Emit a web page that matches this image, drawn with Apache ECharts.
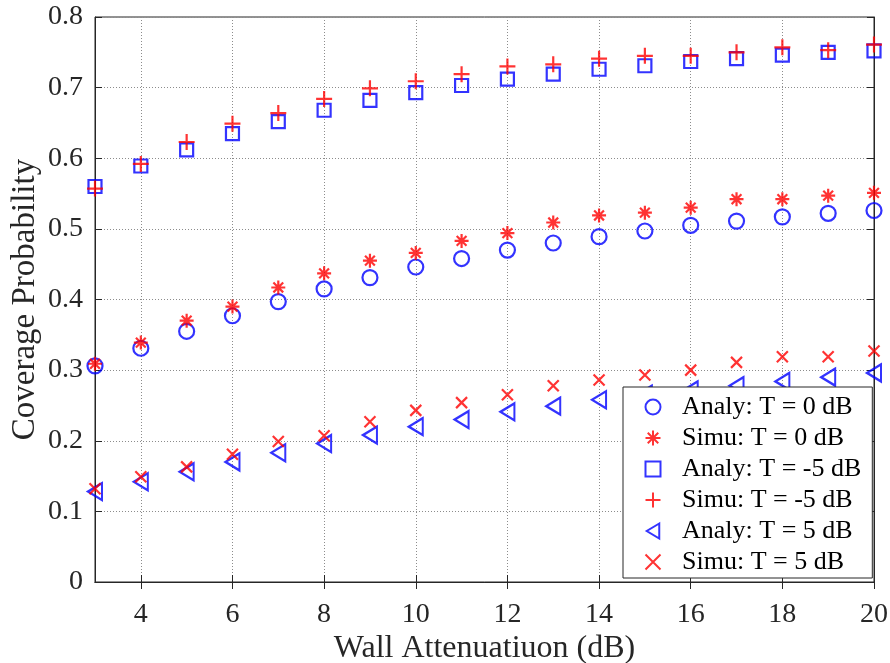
<!DOCTYPE html>
<html>
<head>
<meta charset="utf-8">
<script src="https://cdn.jsdelivr.net/npm/echarts@6/dist/echarts.min.js"></script>
<style>html,body{margin:0;padding:0;background:#fff}#c{width:890px;height:663px}</style>
</head>
<body>
<div id="c"></div>
<script>
const xValues = [3,4,5,6,7,8,9,10,11,12,13,14,15,16,17,18,19,20];
const xTickValues = [4,6,8,10,12,14,16,18,20];
const analyT0 = [0.306,0.331,0.355,0.377,0.397,0.415,0.431,0.446,0.458,0.470,0.480,0.489,0.497,0.505,0.511,0.517,0.522,0.526];
const simuT0 = [0.309,0.339,0.370,0.390,0.417,0.437,0.455,0.466,0.483,0.494,0.509,0.519,0.523,0.530,0.542,0.542,0.547,0.551];
const analyTm5 = [0.560,0.589,0.612,0.635,0.652,0.668,0.682,0.693,0.703,0.712,0.719,0.726,0.731,0.737,0.741,0.746,0.750,0.752];
const simuTm5 = [0.557,0.592,0.623,0.649,0.664,0.684,0.699,0.709,0.719,0.730,0.733,0.741,0.745,0.745,0.750,0.757,0.753,0.761];
const analyT5 = [0.128,0.142,0.156,0.170,0.183,0.196,0.208,0.220,0.230,0.241,0.249,0.258,0.266,0.272,0.278,0.284,0.290,0.296];
const simuT5 = [0.132,0.149,0.163,0.181,0.199,0.207,0.227,0.243,0.254,0.265,0.278,0.286,0.293,0.300,0.311,0.319,0.319,0.327];
const seriesNames = ['Analy: T = 0 dB','Simu: T = 0 dB','Analy: T = -5 dB','Simu: T = -5 dB','Analy: T = 5 dB','Simu: T = 5 dB'];

const BLUE = '#0000ff', RED = '#ff0000';
const FONT = '"Liberation Serif", "Times New Roman", serif';
const pair = arr => xValues.map((x, i) => [x, arr[i]]);

const symCircle = 'circle';
const symSquare = 'path://M0,0L10,0L10,10L0,10Z';
const symPlus = 'path://M5,0L5,10M0,5L10,5';
const symStar = 'path://M5,0L5,10M0,5L10,5M1.5,1.5L8.5,8.5M1.5,8.5L8.5,1.5';
const symTri = 'path://M10,0L0,6L10,12Z';
const symX = 'path://M0,0L10,10M0,10L10,0';

function mk(name, data, symbol, size, color) {
  return {
    name: name, type: 'scatter', data: pair(data),
    symbol: symbol, symbolSize: size,
    itemStyle: { color: 'none', borderColor: color, borderWidth: 2.2 },
    emphasis: { disabled: true },
    xAxisIndex: 0, yAxisIndex: 0
  };
}

const chart = echarts.init(document.getElementById('c'), null, { renderer: 'canvas' });
const gridLine = { show: true, lineStyle: { color: '#8c8c8c', type: [1, 2], width: 1 } };
const symbols = [symCircle, symStar, symSquare, symPlus, symTri, symX];
chart.setOption({
  animation: false,
  backgroundColor: '#fff',
  grid: { left: 95, right: 16, top: 17, bottom: 81, show: true, borderColor: '#262626', borderWidth: 1,
          backgroundColor: 'transparent', outerBoundsMode: 'none', containLabel: false },
  legend: {
    orient: 'vertical', left: 623, top: 387,
    backgroundColor: '#fff', borderColor: '#262626', borderWidth: 1,
    padding: [7, 11, 3, 20], itemGap: 5, itemWidth: 48, itemHeight: 15,
    symbolKeepAspect: true,
    textStyle: { fontFamily: FONT, fontSize: 26, color: '#000' },
    data: seriesNames.map((n, i) => ({ name: n, icon: symbols[i] }))
  },
  xAxis: [{
    type: 'value', min: 3, max: 20,
    name: 'Wall Attenuatiuon (dB)', nameLocation: 'middle', nameGap: 51, nameMoveOverlap: false,
    nameTextStyle: { fontFamily: FONT, fontSize: 32, color: '#262626' },
    axisLine: { show: true, lineStyle: { color: '#262626' } },
    axisTick: { show: true, inside: true, length: 7, customValues: xTickValues, lineStyle: { color: '#262626' } },
    axisLabel: { customValues: xTickValues, fontFamily: FONT, fontSize: 28, color: '#262626', margin: 19 },
    splitLine: gridLine
  }, {
    type: 'value', min: 3, max: 20, position: 'top',
    axisLine: { show: true, lineStyle: { color: '#262626' } },
    axisTick: { show: true, inside: true, length: 7, customValues: xTickValues, lineStyle: { color: '#262626' } },
    axisLabel: { show: false }, splitLine: { show: false }
  }],
  yAxis: [{
    type: 'value', min: 0, max: 0.8, interval: 0.1,
    name: 'Coverage Probability', nameLocation: 'middle', nameGap: 53, nameMoveOverlap: false,
    nameTextStyle: { fontFamily: FONT, fontSize: 33, color: '#262626' },
    axisLine: { show: true, lineStyle: { color: '#262626' } },
    axisTick: { show: true, inside: true, length: 7, lineStyle: { color: '#262626' } },
    axisLabel: { fontFamily: FONT, fontSize: 28, color: '#262626', margin: 12 },
    splitLine: gridLine
  }, {
    type: 'value', min: 0, max: 0.8, interval: 0.1, position: 'right',
    axisLine: { show: true, lineStyle: { color: '#262626' } },
    axisTick: { show: true, inside: true, length: 7, lineStyle: { color: '#262626' } },
    axisLabel: { show: false }, splitLine: { show: false }
  }],
  series: [
    mk(seriesNames[0], analyT0, symCircle, 15, BLUE),
    mk(seriesNames[1], simuT0, symStar, 14, RED),
    mk(seriesNames[2], analyTm5, symSquare, 13, BLUE),
    mk(seriesNames[3], simuTm5, symPlus, 16, RED),
    mk(seriesNames[4], analyT5, symTri, [14, 17], BLUE),
    mk(seriesNames[5], simuT5, symX, 11, RED)
  ]
});
</script>
</body>
</html>
